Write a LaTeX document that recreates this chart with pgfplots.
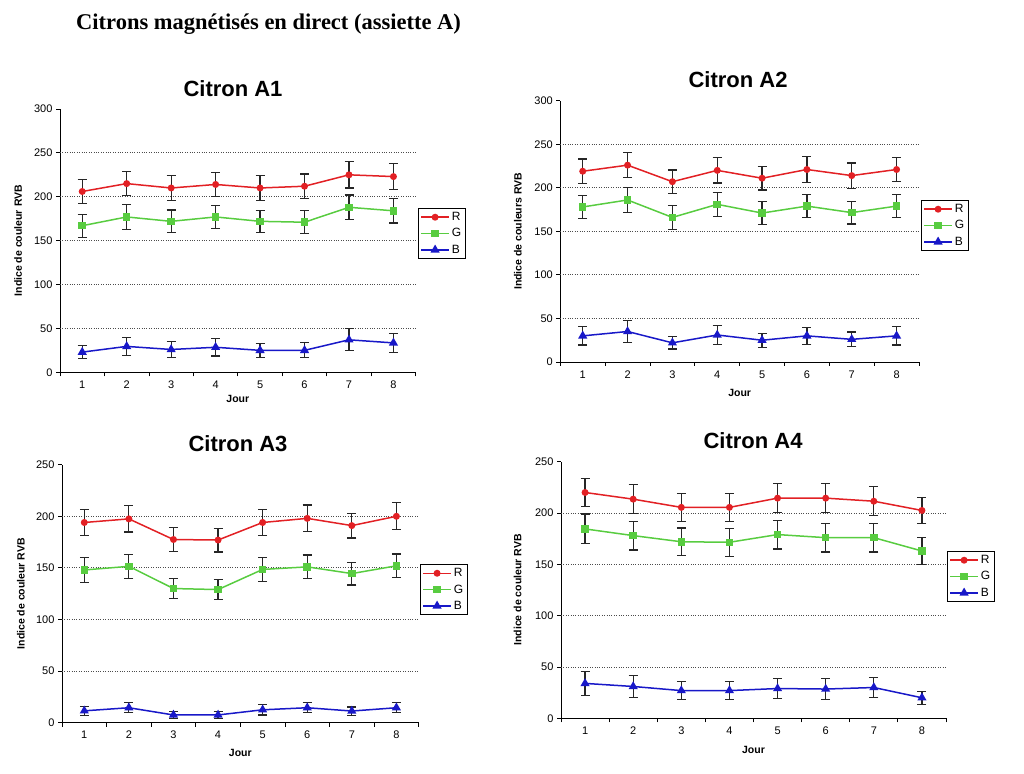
\documentclass[border=0pt]{standalone}
\usepackage{fontspec}
\setmainfont{Liberation Sans}
\newfontfamily\timesfont{Liberation Serif}
\usepackage{pgfplots}
\pgfplotsset{compat=1.18}

\definecolor{cR}{RGB}{226,32,36}
\definecolor{cG}{RGB}{88,204,64}
\definecolor{cB}{RGB}{24,24,200}

\pgfplotsset{
  panel/.style={
    scale only axis, anchor=south west,
    xmin=0.5, xmax=8.5, ymin=0,
    axis x line*=bottom, axis y line*=left,
    axis line style={-, line width=0.8pt, black},
    tick align=outside, major tick length=4pt,
    tick style={black, line width=0.8pt},
    /pgf/number format/assume math mode=true,
    ticklabel style={font=\fontsize{11}{12}\selectfont},
    xtick={0.5,1.5,...,8.5}, xticklabels={},
    extra x ticks={1,2,...,8},
    extra x tick style={major tick length=0pt, tick label style={yshift=-5pt}},
    extra y tick labels={},
    extra y tick style={grid=major, major tick length=0pt},
    major grid style={dotted, black!70, line width=0.9pt},
    ylabel={Indice de couleur RVB},
    ylabel style={font=\bfseries\fontsize{10.5}{12}\selectfont, anchor=center},
    xlabel={Jour},
    xlabel style={font=\bfseries\fontsize{10.5}{12}\selectfont, at={(axis description cs:0.5,0)}, anchor=center},
    legend style={anchor=north west, draw=black, line width=0.7pt,
      font=\fontsize{12}{13}\selectfont, inner xsep=2pt, inner ysep=2pt, row sep=2.5pt},
    legend cell align=left,
    legend image code/.code={\draw[mark repeat=2,mark phase=2] plot coordinates {(0pt,0pt)(14pt,0pt)(28pt,0pt)};},
    error bars/y dir=both, error bars/y explicit,
    error bars/error bar style={black!85, line width=1.2pt},
    error bars/error mark options={rotate=90, black!85, line width=1.2pt, mark size=4.5pt},
  },
  serR/.style={cR, line width=1.5pt, mark=*, mark size=2.7pt, mark options={solid, fill=cR}},
  serG/.style={cG, line width=1.5pt, mark=square*, mark size=3pt, mark options={solid, fill=cG}},
  serB/.style={cB, line width=1.5pt, mark=triangle*, mark size=3.8pt, mark options={solid, fill=cB}},
}

\begin{document}
\begin{tikzpicture}[x=1pt,y=1pt]
\path[use as bounding box] (0,0) rectangle (1024,773);

\node[anchor=base west, inner sep=0pt, font=\timesfont\bfseries\fontsize{22.5}{26}\selectfont] at (76,743)
  {Citrons magnétisés en direct (assiette A)};

% ---- Citron A1
\begin{axis}[panel, at={(60pt,400.7pt)}, width=355.7pt, height=263.3pt,
  ymax=300, ytick={0,50,...,300}, extra y ticks={50,100,...,250},
  ylabel style={at={(axis description cs:-0.118,0.5)}},
  xlabel style={yshift=-27pt},
  legend style={at={(axis description cs:1.0065,0.624)}}]
\addplot[serR] coordinates {(1,206) +- (0,14) (2,215) +- (0,14) (3,210) +- (0,14) (4,214) +- (0,14)
  (5,210) +- (0,14) (6,212) +- (0,14) (7,225) +- (0,15) (8,223) +- (0,14.5)};
\addplot[serG] coordinates {(1,167) +- (0,13) (2,177) +- (0,14) (3,172) +- (0,13) (4,177) +- (0,13)
  (5,172) +- (0,12.5) (6,171) +- (0,13) (7,188) +- (0,14) (8,184) +- (0,14)};
\addplot[serB] coordinates {(1,23) +- (0,7.5) (2,29.5) +- (0,10) (3,26) +- (0,9) (4,28.5) +- (0,10)
  (5,25) +- (0,8) (6,25) +- (0,8.5) (7,37) +- (0,12.5) (8,33.5) +- (0,11)};
\legend{R,G,B}
\end{axis}
\node[font=\bfseries\fontsize{22}{26}\selectfont] at (233,684) {Citron A1};

% ---- Citron A2
\begin{axis}[panel, at={(560.3pt,411pt)}, width=358.7pt, height=261.3pt,
  ymax=300, ytick={0,50,...,300}, extra y ticks={50,100,...,250},
  ylabel={Indice de couleurs RVB},
  ylabel style={at={(axis description cs:-0.118,0.5)}},
  xlabel style={yshift=-31pt},
  legend style={at={(axis description cs:1.0056,0.620)}}]
\addplot[serR] coordinates {(1,219) +- (0,14) (2,226) +- (0,14.5) (3,207) +- (0,13.5) (4,220) +- (0,14.5)
  (5,211) +- (0,13.5) (6,221) +- (0,14.5) (7,214) +- (0,14.5) (8,221) +- (0,14)};
\addplot[serG] coordinates {(1,178) +- (0,13.5) (2,186) +- (0,14) (3,166) +- (0,13.5) (4,181) +- (0,14)
  (5,171) +- (0,13) (6,179) +- (0,13.5) (7,171.5) +- (0,13) (8,179) +- (0,13.5)};
\addplot[serB] coordinates {(1,30) +- (0,10.5) (2,35) +- (0,12.5) (3,22) +- (0,7) (4,31) +- (0,10.5)
  (5,25) +- (0,8) (6,30) +- (0,10) (7,26) +- (0,8.5) (8,30) +- (0,10.5)};
\legend{R,G,B}
\end{axis}
\node[font=\bfseries\fontsize{22}{26}\selectfont] at (738,693) {Citron A2};

% ---- Citron A3
\begin{axis}[panel, at={(62pt,50.3pt)}, width=356.7pt, height=258pt,
  ymax=250, ytick={0,50,...,250}, extra y ticks={50,100,...,200},
  ylabel style={at={(axis description cs:-0.115,0.5)}},
  xlabel style={yshift=-30pt},
  legend style={at={(axis description cs:1.0036,0.615)}}]
\addplot[serR] coordinates {(1,194) +- (0,12.5) (2,197.5) +- (0,12.7) (3,177.5) +- (0,11.5) (4,177) +- (0,11.5)
  (5,194) +- (0,12.5) (6,198) +- (0,13) (7,191) +- (0,12) (8,200) +- (0,13)};
\addplot[serG] coordinates {(1,148) +- (0,11.8) (2,151.5) +- (0,11.5) (3,130) +- (0,10) (4,129) +- (0,10)
  (5,148.5) +- (0,11.5) (6,151) +- (0,11.5) (7,144.5) +- (0,11) (8,152) +- (0,11.5)};
\addplot[serB] coordinates {(1,11.5) +- (0,4.2) (2,14.5) +- (0,5) (3,7.5) +- (0,3.2) (4,7.5) +- (0,3.2)
  (5,12.5) +- (0,5) (6,14.5) +- (0,5) (7,11.3) +- (0,4) (8,14.5) +- (0,5)};
\legend{R,G,B}
\end{axis}
\node[font=\bfseries\fontsize{22}{26}\selectfont] at (238,329) {Citron A3};

% ---- Citron A4
\begin{axis}[panel, at={(561pt,54.7pt)}, width=385pt, height=256.6pt,
  ymax=250, ytick={0,50,...,250}, extra y ticks={50,100,...,200},
  ylabel style={at={(axis description cs:-0.113,0.5)}},
  xlabel style={yshift=-32pt},
  legend style={at={(axis description cs:1.0026,0.652)}}]
\addplot[serR] coordinates {(1,220) +- (0,14) (2,213.5) +- (0,14) (3,205.5) +- (0,13.5) (4,205.5) +- (0,13.5)
  (5,214.5) +- (0,14) (6,214.5) +- (0,14) (7,211.5) +- (0,14) (8,202.5) +- (0,13)};
\addplot[serG] coordinates {(1,184.5) +- (0,14.5) (2,178) +- (0,14) (3,172) +- (0,13.5) (4,171.5) +- (0,13.5)
  (5,179) +- (0,14) (6,176) +- (0,14) (7,176) +- (0,14) (8,163) +- (0,13)};
\addplot[serB] coordinates {(1,34) +- (0,11.7) (2,31) +- (0,11) (3,27) +- (0,9) (4,27) +- (0,9)
  (5,29) +- (0,10) (6,28.5) +- (0,10) (7,30) +- (0,10) (8,20) +- (0,6.5)};
\legend{R,G,B}
\end{axis}
\node[font=\bfseries\fontsize{22}{26}\selectfont] at (753,332) {Citron A4};

\end{tikzpicture}
\end{document}
